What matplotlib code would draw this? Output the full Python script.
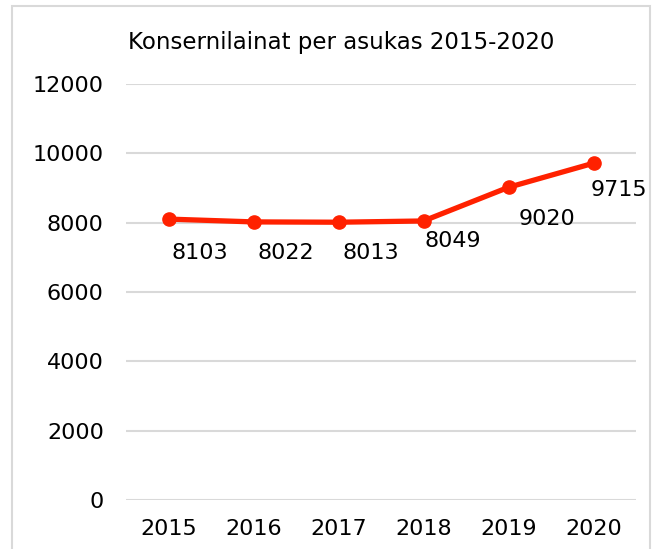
import matplotlib.pyplot as plt
from matplotlib.patches import Rectangle

years = ['2015', '2016', '2017', '2018', '2019', '2020']
loans = [8103, 8022, 8013, 8049, 9020, 9715]

# label offsets in pixels (dx right, dy down) as placed in the original chart
label_dx = [31, 32, 32, 29, 38, 25]
label_dy = [34, 31, 31, 20, 32, 27]

red = '#ff2100'
grid_col = '#d9d9d9'
fs = 16

fig = plt.figure(figsize=(6.7, 5.49), dpi=100)
ax = fig.add_axes([126 / 670, 1 - 500 / 549, (636 - 126) / 670, (500 - 84) / 549])

# chart border
fig.patches.append(Rectangle((12 / 670, -0.05), (650 - 12) / 670, 1.05 - 6 / 549,
                             transform=fig.transFigure, fill=False,
                             edgecolor='#d9d9d9', linewidth=1.5))

x = range(len(years))
ax.plot(x, loans, color=red, linewidth=3.8, marker='o', markersize=9.5,
        solid_capstyle='round', zorder=3)

for i, v in enumerate(loans):
    ax.annotate(str(v), (i, v), xytext=(label_dx[i] * 0.72, -label_dy[i] * 0.72),
                textcoords='offset points', ha='center', va='center',
                fontsize=fs, color='#000000')

ax.set_xlim(-0.5, 5.5)
ax.set_ylim(0, 12000)
ax.set_yticks(range(0, 12001, 2000))
ax.set_xticks(list(x))
ax.set_xticklabels(years)
ax.yaxis.grid(True, color=grid_col, linewidth=1.5)
ax.set_axisbelow(True)
for s in ax.spines.values():
    s.set_visible(False)
ax.tick_params(length=0, labelsize=fs, colors='#000000')
ax.tick_params(axis='y', pad=16)
ax.tick_params(axis='x', pad=14)

fig.text(341 / 670, 1 - 42 / 549, 'Konsernilainat per asukas 2015-2020',
         ha='center', va='center', fontsize=16.5)

fig.savefig('out.png', dpi=100)
